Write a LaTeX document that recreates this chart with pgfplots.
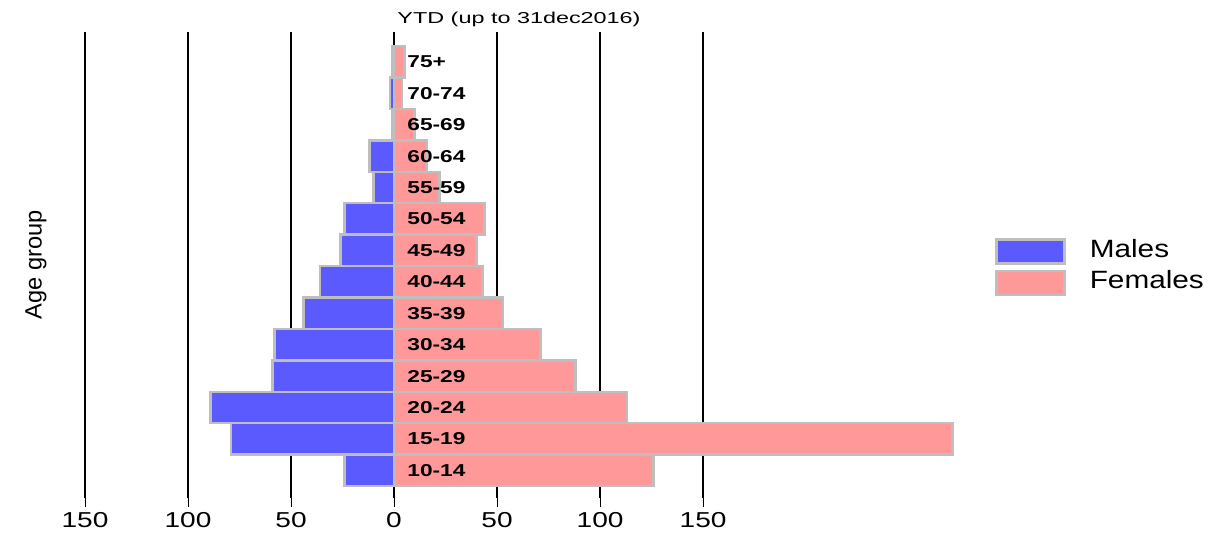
\documentclass[border=0pt]{standalone}
\usepackage{pgfplots}
\pgfplotsset{compat=1.18}
\usepackage{fontspec}
\setmainfont{Liberation Sans}
\definecolor{mcol}{RGB}{90,90,255}
\definecolor{fcol}{RGB}{255,153,153}
\definecolor{bcol}{RGB}{190,190,190}
\newcommand{\tl}[1]{\scalebox{1.3}[1]{#1}}
\begin{document}
\begin{tikzpicture}
\useasboundingbox (0,0) rectangle (615pt,268pt);
\begin{axis}[
  at={(42.5pt,19pt)}, anchor=south west,
  scale only axis, width=438pt, height=233pt,
  xmin=-150, xmax=275.2, ymin=-0.88, ymax=13.95,
  xbar, bar width=1, bar shift=0pt,
  axis line style={draw=none},
  ytick=\empty,
  xtick={-150,-100,-50,0,50,100,150},
  xticklabels={\tl{150},\tl{100},\tl{50},\tl{0},\tl{50},\tl{100},\tl{150}},
  xtick pos=bottom, tick align=outside,
  major tick length=4.5pt,
  tick style={black, line width=0.5pt},
  xmajorgrids, grid style={black, line width=0.6pt},
  /pgf/number format/assume math mode=true,
  xticklabel style={font=\fontsize{10.8}{12}\selectfont, inner sep=0pt, yshift=-2.5pt},
  legend image code/.code={\draw[#1] (0pt,-6pt) rectangle (34pt,6pt);},
  legend style={draw=none, fill=none, at={(1.0388,0.558)}, anchor=north west,
    row sep=2.5pt, inner sep=0pt, column sep=0pt,
    nodes={inner sep=0pt, anchor=west, text height=6pt, text depth=0pt},
    font=\fontsize{12.5}{14}\selectfont},
  legend cell align=left,
]
\addplot[fill=mcol, draw=bcol, line width=1.2pt] coordinates {
 (-24,0) (-79,1) (-89,2) (-59,3) (-58,4) (-44,5) (-36,6) (-26,7) (-24,8) (-10,9) (-12,10) (-1,11) (-2,12) (-1,13)};
\addlegendentry{\hspace{12pt}\scalebox{1.19}[1]{Males}}
\addplot[fill=fcol, draw=bcol, line width=1.2pt] coordinates {
 (126,0) (271,1) (113,2) (88,3) (71,4) (53,5) (43,6) (40,7) (44,8) (22,9) (16,10) (10,11) (4,12) (5,13)};
\addlegendentry{\hspace{12pt}\scalebox{1.19}[1]{Females}}
\begin{scope}[every node/.style={anchor=west, inner sep=0pt, font=\bfseries\fontsize{8.6}{10}\selectfont}]
\node at (axis cs:6.3,0) {\scalebox{1.32}[1]{10-14}};
\node at (axis cs:6.3,1) {\scalebox{1.32}[1]{15-19}};
\node at (axis cs:6.3,2) {\scalebox{1.32}[1]{20-24}};
\node at (axis cs:6.3,3) {\scalebox{1.32}[1]{25-29}};
\node at (axis cs:6.3,4) {\scalebox{1.32}[1]{30-34}};
\node at (axis cs:6.3,5) {\scalebox{1.32}[1]{35-39}};
\node at (axis cs:6.3,6) {\scalebox{1.32}[1]{40-44}};
\node at (axis cs:6.3,7) {\scalebox{1.32}[1]{45-49}};
\node at (axis cs:6.3,8) {\scalebox{1.32}[1]{50-54}};
\node at (axis cs:6.3,9) {\scalebox{1.32}[1]{55-59}};
\node at (axis cs:6.3,10) {\scalebox{1.32}[1]{60-64}};
\node at (axis cs:6.3,11) {\scalebox{1.32}[1]{65-69}};
\node at (axis cs:6.3,12) {\scalebox{1.32}[1]{70-74}};
\node at (axis cs:6.3,13) {\scalebox{1.32}[1]{75+}};
\end{scope}
\end{axis}
\node[font=\fontsize{7.9}{9}\selectfont] at (259.5pt,258.5pt) {\scalebox{1.48}[1]{YTD (up to 31dec2016)}};
\node[rotate=90, font=\fontsize{11.8}{13}\selectfont] at (18pt,135.5pt) {Age group};
\end{tikzpicture}
\end{document}
